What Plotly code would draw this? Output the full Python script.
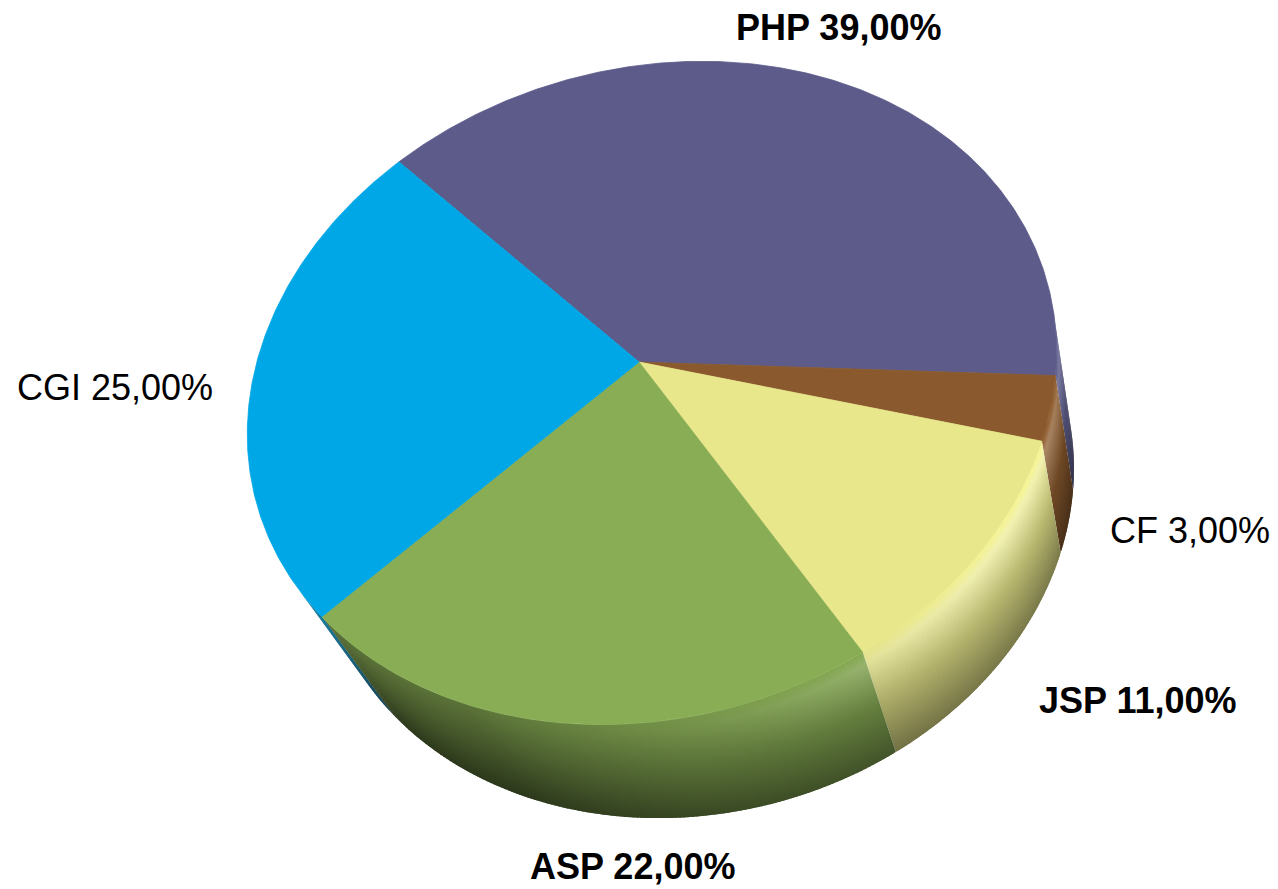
import numpy as np
import plotly.graph_objects as go

# ---------------- data ----------------
labels = ["PHP", "CF", "JSP", "ASP", "CGI"]
values = [39.0, 3.0, 11.0, 22.0, 25.0]
colors = ["#5C5B8A", "#8A5A2E", "#E8E78C", "#89AD55", "#00A7E6"]
bold = [True, False, True, True, False]

# ---------------- projection / layout parameters ----------------
W_PX, H_PX = 1278, 889
PAGE_OFF = 8  # default body margin of the html page
APEX = (639.0, 362.0)
SCALE = 1.015
UA = np.array([-259.0, -215.9]) * SCALE
VA = np.array([-300.0, 241.0]) * SCALE
G1, G2 = 0.095, -0.04
# thickness direction in homogeneous coords (perspective towards a vanishing point)
WW = 0.074
VP = np.array([660.0, 1600.0])
LABEL_POS = {"PHP": (838, 27), "CF": (1190, 530), "JSP": (1138, 700),
             "ASP": (632, 866), "CGI": (115, 387)}
FONT = "Liberation Sans, Arial, sans-serif"
FSIZE = 36


def proj(s_deg, d=0.0):
    s = np.radians(np.asarray(s_deg, dtype=float))
    c, sn = np.cos(s), np.sin(s)
    X = UA[0] * c - VA[0] * sn + d * WW * VP[0]
    Y = UA[1] * c - VA[1] * sn + d * WW * VP[1]
    Wd = 1 + G1 * c - G2 * sn + d * WW
    return APEX[0] + X / Wd, APEX[1] + Y / Wd


def hex2rgb(h):
    h = h.lstrip("#")
    return np.array([int(h[i:i + 2], 16) for i in (0, 2, 4)], dtype=float)


def shade(hexcol, f, white=0.0):
    rgb = np.clip(hex2rgb(hexcol) * f, 0, 255)
    rgb = rgb * (1 - white) + 255 * white
    r, g, b = [int(round(v)) for v in rgb]
    return f"rgb({r},{g},{b})"


def quad(s0, s1, d0=0.0, d1=1.0):
    xa, ya = proj(s0, d0)
    xb, yb = proj(s1, d0)
    xc, yc = proj(s1, d1)
    xd, yd = proj(s0, d1)
    return [xa, xb, xc, xd, xa], [ya, yb, yc, yd, ya]


def signed_area(xs, ys):
    a = 0.0
    for i in range(len(xs) - 1):
        a += xs[i] * ys[i + 1] - xs[i + 1] * ys[i]
    return a / 2


total = sum(values)
cum = np.concatenate([[0.0], np.cumsum(values)]) / total * 360.0

fig = go.Figure()

ref_sign = np.sign(signed_area(*quad(219, 221)))

# ---------------- side walls (gradient columns) ----------------
STEP = 0.6
OVL = 0.25
for i, lab in enumerate(labels):
    s0, s1 = cum[i], cum[i + 1]
    n = max(2, int(np.ceil((s1 - s0) / STEP)))
    edges = np.linspace(s0, s1, n + 1)
    for j in range(n):
        a0, a1 = edges[j], edges[j + 1]
        if np.sign(signed_area(*quad(a0, a1))) != ref_sign:
            continue
        b0 = a0 - (OVL if j > 0 else 0.0)
        b1 = a1 + (OVL if j < n - 1 else 0.0)
        qx, qy = quad(b0, b1)
        sm = 0.5 * (a0 + a1)
        ang = 0.62 + 0.38 * max(0.0, np.cos(np.radians(sm - 155)))
        spec = 0.32 * max(0.0, np.cos(np.radians(sm - 165))) ** 6
        c_top = shade(colors[i], ang * 1.06)
        c_hi = shade(colors[i], ang * 1.02, spec)
        c_mid = shade(colors[i], ang * 0.8)
        c_bot = shade(colors[i], ang * 0.52)
        _, ytop = proj(sm, 0.0)
        _, ybot = proj(sm, 1.0)
        fig.add_trace(go.Scatter(
            x=qx, y=qy, mode="lines", fill="toself",
            fillcolor=c_mid,
            fillgradient=dict(type="vertical",
                              colorscale=[[0, c_top], [0.1, c_hi], [0.5, c_mid], [1, c_bot]],
                              start=float(ytop), stop=float(ybot)),
            line=dict(width=0), hoverinfo="skip", showlegend=False))

# ---------------- top faces ----------------
for i, lab in enumerate(labels):
    s0, s1 = cum[i], cum[i + 1]
    ss = np.linspace(s0, s1, max(3, int((s1 - s0) / 0.5) + 1))
    rx, ry = proj(ss, 0)
    xs = [APEX[0]] + list(rx) + [APEX[0]]
    ys = [APEX[1]] + list(ry) + [APEX[1]]
    fig.add_trace(go.Scatter(x=xs, y=ys, mode="lines", fill="toself",
                             fillcolor=colors[i], line=dict(color=colors[i], width=0.8),
                             name=lab, hoverinfo="name", showlegend=False))

# ---------------- labels ----------------
for i, lab in enumerate(labels):
    txt = f"{lab} {values[i]:.2f}%".replace(".", ",")
    if bold[i]:
        txt = f"<b>{txt}</b>"
    x, y = LABEL_POS[lab]
    fig.add_annotation(x=x, y=y, text=txt, showarrow=False, xref="x", yref="y",
                       font=dict(family=FONT, size=FSIZE, color="black"))

fig.update_layout(
    width=W_PX, height=H_PX,
    margin=dict(l=0, r=0, t=0, b=0),
    paper_bgcolor="white", plot_bgcolor="white",
    xaxis=dict(range=[PAGE_OFF, W_PX + PAGE_OFF], visible=False, fixedrange=True),
    yaxis=dict(range=[H_PX + PAGE_OFF, PAGE_OFF], visible=False, fixedrange=True),
)

fig.write_html("out.html")
